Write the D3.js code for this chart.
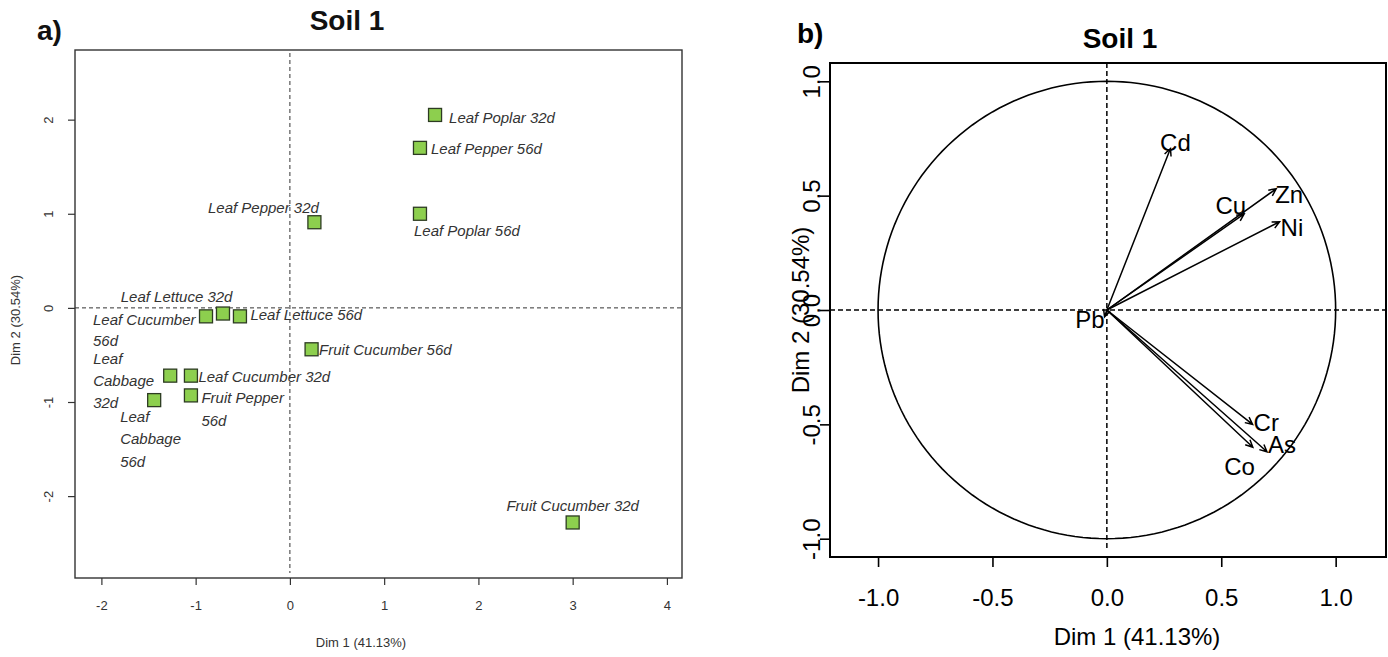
<!DOCTYPE html>
<html><head><meta charset="utf-8">
<script src="https://cdn.jsdelivr.net/npm/d3@7"></script>
<style>body{margin:0;background:#fff} svg{display:block} text{font-family:"Liberation Sans",Arial,sans-serif}</style>
</head><body><svg id="c" width="1388" height="657"></svg>
<script>
// ---- data: individuals (panel a) ----
const indNames = ["Leaf Poplar 32d","Leaf Pepper 56d","Leaf Poplar 56d","Leaf Pepper 32d","Leaf Lettuce 32d","Leaf Cucumber 56d","Leaf Lettuce 56d","Fruit Cucumber 56d","Leaf Cabbage 32d","Leaf Cucumber 32d","Fruit Pepper 56d","Leaf Cabbage 56d","Fruit Cucumber 32d"];
const indDim1 = [1.54, 1.38, 1.38, 0.26, -0.71, -0.89, -0.53, 0.23, -1.27, -1.05, -1.05, -1.44, 3.00];
const indDim2 = [2.05, 1.70, 1.00, 0.91, -0.06, -0.09, -0.09, -0.44, -0.72, -0.72, -0.93, -0.98, -2.28];
const indLabelLines = [["Leaf Poplar 32d"],["Leaf Pepper 56d"],["Leaf Poplar 56d"],["Leaf Pepper 32d"],["Leaf Lettuce 32d"],["Leaf Cucumber","56d"],["Leaf Lettuce 56d"],["Fruit Cucumber 56d"],["Leaf","Cabbage","32d"],["Leaf Cucumber 32d"],["Fruit Pepper","56d"],["Leaf","Cabbage","56d"],["Fruit Cucumber 32d"]];
const indXTicks = [-2,-1,0,1,2,3,4];
const indYTicks = [-2,-1,0,1,2];

// ---- data: variables (panel b) ----
const varNames = ["Cd","Zn","Cu","Ni","Pb","Cr","As","Co"];
const varDim1 = [0.278, 0.74, 0.60, 0.755, -0.01, 0.637, 0.70, 0.638];
const varDim2 = [0.706, 0.53, 0.42, 0.386, -0.03, -0.50, -0.62, -0.60];
const varTicks = [-1.0,-0.5,0.0,0.5,1.0];

// ---- layout (label placement offsets in px) ----
const indLabelLayout = [
  {dx:14,dy:8.5,a:"start",lh:22.5},{dx:11,dy:6,a:"start",lh:22.5},{dx:-6,dy:22.5,a:"start",lh:22.5},{dx:4.5,dy:-9.5,a:"end",lh:22.5},
  {dx:9.5,dy:-11.5,a:"end",lh:22.5},{dx:-113,dy:9,a:"start",lh:20.5},{dx:10.5,dy:4,a:"start",lh:22.5},{dx:7.5,dy:6,a:"start",lh:22.5},
  {dx:-77,dy:-12,a:"start",lh:22},{dx:7.5,dy:6,a:"start",lh:22.5},{dx:10.5,dy:7.5,a:"start",lh:23},{dx:-34,dy:21.5,a:"start",lh:22.5},
  {dx:0,dy:-11,a:"middle",lh:22.5}];
const varLabelLayout = [
  {dx:5,dy:2,a:"middle"},{dx:-1,dy:14,a:"start"},{dx:2,dy:0,a:"end"},{dx:1,dy:14,a:"start"},
  {dx:0,dy:11,a:"end"},{dx:1,dy:7,a:"start"},{dx:1,dy:1,a:"start"},{dx:2,dy:28,a:"end"}];

const svg = d3.select("#c");

// ================= Panel a =================
const A = {l:75, r:682, t:50, b:578};
const xa = d3.scaleLinear().domain([-2.28, 4.16]).range([A.l, A.r]);
const ya = d3.scaleLinear().domain([-2.87, 2.74]).range([A.b, A.t]);
const ga = svg.append("g");
const gray = "#333";

ga.append("text").attr("x",37).attr("y",40).attr("font-size",28).attr("font-weight","bold").attr("fill","#111").text("a)");
ga.append("text").attr("x",347).attr("y",30).attr("text-anchor","middle").attr("font-size",28).attr("font-weight","bold").attr("fill","#111").text("Soil 1");

// dashed zero lines
ga.append("line").attr("x1",xa(0)).attr("x2",xa(0)).attr("y1",A.t+3).attr("y2",A.b-5)
  .attr("stroke",gray).attr("stroke-width",1).attr("stroke-dasharray","4,3");
ga.append("line").attr("x1",A.l).attr("x2",A.r).attr("y1",ya(0)).attr("y2",ya(0))
  .attr("stroke",gray).attr("stroke-width",1).attr("stroke-dasharray","4,3");

// axes
const axA = d3.axisBottom(xa).tickValues(indXTicks).tickSize(7).tickPadding(16).tickFormat(d=>String(d));
const gax = ga.append("g").attr("transform",`translate(0,${A.b})`).call(axA);
gax.select(".domain").remove();
gax.selectAll("line").attr("stroke",gray).attr("stroke-width",1.2);
gax.selectAll("text").attr("font-size",13).attr("fill",gray).attr("font-family","Liberation Sans, Arial");

const ayA = d3.axisLeft(ya).tickValues(indYTicks).tickSize(7).tickFormat(d=>String(d));
const gay = ga.append("g").attr("transform",`translate(${A.l},0)`).call(ayA);
gay.select(".domain").remove();
gay.selectAll("line").attr("stroke",gray).attr("stroke-width",1.2);
gay.selectAll("text").remove();
gay.selectAll(".tick").append("text").attr("transform","translate(-22,0) rotate(-90)")
  .attr("text-anchor","middle").attr("font-size",13).attr("fill",gray).attr("font-family","Liberation Sans, Arial")
  .text(d=>String(d));

ga.append("rect").attr("x",A.l).attr("y",A.t).attr("width",A.r-A.l).attr("height",A.b-A.t)
  .attr("fill","none").attr("stroke",gray).attr("stroke-width",1.4);

ga.append("text").attr("x",361).attr("y",647).attr("text-anchor","middle").attr("font-size",13).attr("fill",gray).text("Dim 1 (41.13%)");
ga.append("text").attr("transform","translate(20,320) rotate(-90)").attr("text-anchor","middle").attr("font-size",13).attr("fill",gray).text("Dim 2 (30.54%)");

// points
const sq = 13;
ga.selectAll("rect.pt").data(indNames).enter().append("rect").attr("class","pt")
  .attr("x",(d,i)=>xa(indDim1[i])-sq/2).attr("y",(d,i)=>ya(indDim2[i])-sq/2)
  .attr("width",sq).attr("height",sq).attr("fill","#8dcf4e").attr("stroke","#2d3b22").attr("stroke-width",1.3);

// labels
indNames.forEach((n,i)=>{
  const L = indLabelLayout[i];
  const t = ga.append("text").attr("font-size",15).attr("font-style","italic").attr("fill",gray)
    .attr("text-anchor",L.a);
  indLabelLines[i].forEach((ln,j)=>{
    t.append("tspan").attr("x",xa(indDim1[i])+L.dx).attr("y",ya(indDim2[i])+L.dy+j*L.lh).text(ln);
  });
});

// ================= Panel b =================
const B = {l:830, r:1386, t:63, b:557};
const xb = d3.scaleLinear().domain([-1.21, 1.22]).range([B.l, B.r]);
const yb = d3.scaleLinear().domain([-1.08, 1.08]).range([B.b, B.t]);
const gb = svg.append("g");

gb.append("text").attr("x",797).attr("y",43).attr("font-size",28).attr("font-weight","bold").attr("fill","#000").text("b)");
gb.append("text").attr("x",1120).attr("y",48).attr("text-anchor","middle").attr("font-size",28).attr("font-weight","bold").attr("fill","#000").text("Soil 1");

// dashed zero lines
gb.append("line").attr("x1",xb(0)).attr("x2",xb(0)).attr("y1",B.t).attr("y2",B.b-6)
  .attr("stroke","#000").attr("stroke-width",1.5).attr("stroke-dasharray","5,3");
gb.append("line").attr("x1",B.l).attr("x2",B.r).attr("y1",yb(0)).attr("y2",yb(0))
  .attr("stroke","#000").attr("stroke-width",1.5).attr("stroke-dasharray","5,3");

// circle
const circ = d3.range(0, 361, 2).map(a=>[Math.cos(a*Math.PI/180), Math.sin(a*Math.PI/180)]);
gb.append("path").attr("d", d3.line().x(d=>xb(d[0])).y(d=>yb(d[1]))(circ))
  .attr("fill","none").attr("stroke","#000").attr("stroke-width",1.6);

// axes
const fmt1 = d => d.toFixed(1);
const axB = d3.axisBottom(xb).tickValues(varTicks).tickSize(10).tickPadding(22).tickFormat(fmt1);
const gbx = gb.append("g").attr("transform",`translate(0,${B.b})`).call(axB);
gbx.select(".domain").remove();
gbx.selectAll("line").attr("stroke","#000").attr("stroke-width",1.6);
gbx.selectAll("text").attr("font-size",24).attr("fill","#000").attr("font-family","Liberation Sans, Arial");

const ayB = d3.axisLeft(yb).tickValues(varTicks).tickSize(10).tickFormat(fmt1);
const gby = gb.append("g").attr("transform",`translate(${B.l},0)`).call(ayB);
gby.select(".domain").remove();
gby.selectAll("line").attr("stroke","#000").attr("stroke-width",1.6);
gby.selectAll("text").remove();
gby.selectAll(".tick").append("text").attr("transform","translate(-10,0) rotate(-90)")
  .attr("text-anchor","middle").attr("font-size",24).attr("fill","#000").attr("font-family","Liberation Sans, Arial")
  .text(d=>fmt1(d));

gb.append("rect").attr("x",B.l).attr("y",B.t).attr("width",B.r-B.l).attr("height",B.b-B.t)
  .attr("fill","none").attr("stroke","#000").attr("stroke-width",2);

gb.append("text").attr("x",1137).attr("y",645).attr("text-anchor","middle").attr("font-size",24).attr("fill","#000").text("Dim 1 (41.13%)");
gb.append("text").attr("transform","translate(809,310) rotate(-90)").attr("text-anchor","middle").attr("font-size",24).attr("fill","#000").text("Dim 2 (30.54%)");

// arrows
const ox = xb(0), oy = yb(0);
varNames.forEach((n,i)=>{
  const tx = xb(varDim1[i]), ty = yb(varDim2[i]);
  const ang = Math.atan2(ty-oy, tx-ox);
  const h = 8, w = Math.PI/7;
  const p = d3.path();
  p.moveTo(ox,oy); p.lineTo(tx,ty);
  p.moveTo(tx-h*Math.cos(ang-w), ty-h*Math.sin(ang-w)); p.lineTo(tx,ty);
  p.lineTo(tx-h*Math.cos(ang+w), ty-h*Math.sin(ang+w));
  gb.append("path").attr("d",p.toString()).attr("fill","none").attr("stroke","#000").attr("stroke-width",1.5);
  const L = varLabelLayout[i];
  gb.append("text").attr("x",tx+L.dx).attr("y",ty+L.dy).attr("text-anchor",L.a)
    .attr("font-size",24).attr("fill","#000").text(n);
});
</script></body></html>
